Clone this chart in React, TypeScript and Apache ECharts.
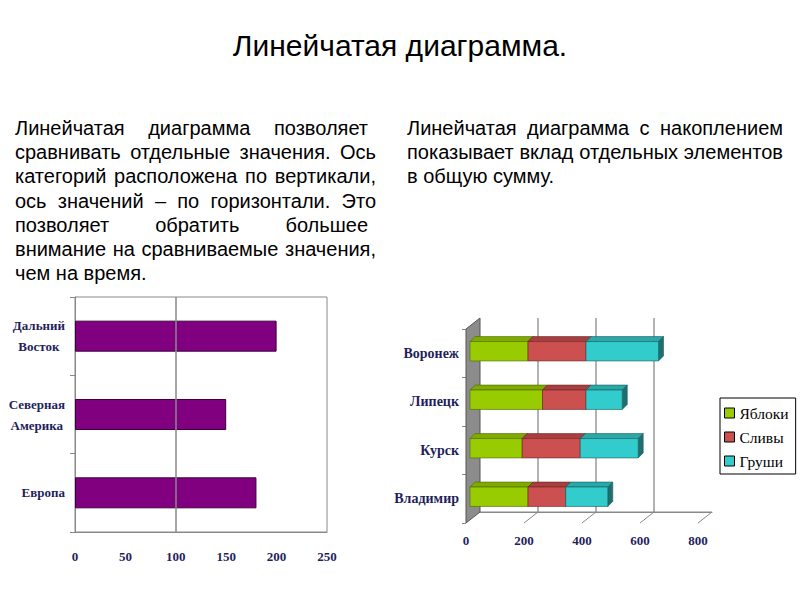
import React, { useEffect, useRef } from "react";
import * as echarts from "echarts";

// ---------- texts ----------
const titleText = "Линейчатая диаграмма.";
const leftParagraph = [
  "Линейчатая диаграмма позволяет",
  "сравнивать отдельные значения. Ось",
  "категорий расположена по вертикали,",
  "ось значений – по горизонтали. Это",
  "позволяет обратить большее",
  "внимание на сравниваемые значения,",
  "чем на время.",
];
const leftJustify = [true, true, true, true, true, true, false];
const leftLineEnds = [368, 376, 376, 376, 368, 376, 376];
const rightParagraph = [
  "Линейчатая диаграмма с накоплением",
  "показывает вклад отдельных элементов",
  "в общую сумму.",
];
const rightJustify = [true, true, false];
const rightLineEnds = [783, 783, 783];

// ---------- left chart data ----------
const leftCategories = ["Европа", "Северная\nАмерика", "Дальний\nВосток"];
const leftValues = [180, 150, 200];
const leftMax = 250;
const leftInterval = 50;
const leftGridValue = 100;

// ---------- right chart data ----------
const rightCategories = ["Владимир", "Курск", "Липецк", "Воронеж"];
const seriesNames = ["Яблоки", "Сливы", "Груши"];
const apples = [200, 180, 250, 200];
const plums = [130, 200, 150, 200];
const pears = [145, 200, 125, 250];
const rightMax = 800;
const rightInterval = 200;
const rightTicks = [0, 200, 400, 600, 800];

const FRONT = ["#99CC00", "#CC5050", "#33CCCC"];
const TOPC = ["#7FAA00", "#A83E3E", "#2AA8A8"];
const SIDE = ["#5E7E00", "#7E2E2E", "#1E7070"];
const EDGE = ["#4d6600", "#6a2626", "#1a5c5c"];

const NAVY = "#1F1F5C";
const SANS = "Liberation Sans";
const SERIF = "Liberation Serif";

function buildTextLines(
  lines: string[],
  justify: boolean[],
  ends: number[],
  x0: number,
  y0: number,
  step: number,
  fontSize: number
) {
  const canvas = document.createElement("canvas");
  const ctx = canvas.getContext("2d")!;
  ctx.font = `${fontSize}px "${SANS}"`;
  const els: any[] = [];
  lines.forEach((line, i) => {
    const y = y0 + i * step;
    const words = line.split(" ");
    if (!justify[i] || words.length < 2) {
      els.push({
        type: "text",
        x: x0,
        y,
        style: { text: line, fontSize, fontFamily: SANS, fill: "#000", align: "left", verticalAlign: "middle" },
      });
      return;
    }
    const widths = words.map((w) => ctx.measureText(w).width);
    const total = widths.reduce((a, b) => a + b, 0);
    const gap = (ends[i] - x0 - total) / (words.length - 1);
    let x = x0;
    words.forEach((w, k) => {
      els.push({
        type: "text",
        x,
        y,
        style: { text: w, fontSize, fontFamily: SANS, fill: "#000", align: "left", verticalAlign: "middle" },
      });
      x += widths[k] + gap;
    });
  });
  return els;
}

export default function App() {
  const ref = useRef<HTMLDivElement>(null);

  useEffect(() => {
    if (!ref.current) return;
    const chart = echarts.init(ref.current, undefined, { renderer: "svg" });

    const stacks = [apples, plums, pears];
    const barSeries = stacks.map((vals, s) => {
      const data = vals.map((v, c) => {
        let start = 0;
        for (let k = 0; k < s; k++) start += stacks[k][c];
        return [start, start + v, c];
      });
      return {
        type: "custom",
        name: seriesNames[s],
        xAxisIndex: 1,
        yAxisIndex: 1,
        z: 5,
        itemStyle: { color: FRONT[s] },
        encode: { x: [0, 1], y: 2 },
        data,
        renderItem: (params: any, api: any) => {
          const cat = api.value(2);
          const a = api.coord([api.value(0), cat]);
          const b = api.coord([api.value(1), cat]);
          const band = api.size([0, 1])[1];
          const h = band * 0.4;
          const d = 5;
          const x = a[0] + 4;
          const y = a[1] - 2 - h / 2;
          const w = b[0] - a[0];
          const st = { stroke: EDGE[s], lineWidth: 0.6 };
          return {
            type: "group",
            children: [
              {
                type: "polygon",
                shape: { points: [[x, y], [x + d, y - d], [x + w + d, y - d], [x + w, y]] },
                style: { fill: TOPC[s], ...st },
              },
              {
                type: "polygon",
                shape: { points: [[x + w, y], [x + w + d, y - d], [x + w + d, y + h - d], [x + w, y + h]] },
                style: { fill: SIDE[s], ...st },
              },
              {
                type: "rect",
                shape: { x, y, width: w, height: h },
                style: { fill: FRONT[s], ...st },
              },
            ],
          };
        },
      };
    });

    const DX = 14;
    const DY = -11;
    const frameSeries = {
      type: "custom",
      name: "frame",
      xAxisIndex: 1,
      yAxisIndex: 1,
      z: 1,
      silent: true,
      encode: { x: 0, y: 1 },
      data: rightTicks.map((t) => [t, 0]),
      renderItem: (params: any, api: any) => {
        const v = api.value(0);
        const p = api.coord([v, 0]);
        const cs = params.coordSys;
        const top = cs.y;
        const bottom = cs.y + cs.height;
        if (v === 0) {
          const pEnd = api.coord([rightMax, 0]);
          return {
            type: "group",
            children: [
              {
                type: "line",
                shape: { x1: p[0] + DX, y1: bottom + DY, x2: pEnd[0] + DX, y2: bottom + DY },
                style: { stroke: "#888", lineWidth: 1 },
              },
              {
                type: "polygon",
                shape: {
                  points: [
                    [p[0], top],
                    [p[0] + DX, top + DY],
                    [p[0] + DX, bottom + DY],
                    [p[0], bottom],
                  ],
                },
                style: { fill: "#8C8C8C", stroke: "#555", lineWidth: 1 },
              },
            ],
          };
        }
        return {
          type: "line",
          shape: { x1: p[0] + DX, y1: bottom + DY, x2: p[0], y2: bottom },
          style: { stroke: "#888", lineWidth: 1 },
        };
      },
    };

    const graphics: any[] = [
      {
        type: "text",
        x: 400,
        y: 45,
        style: { text: titleText, fontSize: 30, fontFamily: SANS, fill: "#000", align: "center", verticalAlign: "middle" },
      },
      ...buildTextLines(leftParagraph, leftJustify, leftLineEnds, 15, 128, 24.2, 20),
      ...buildTextLines(rightParagraph, rightJustify, rightLineEnds, 407, 128, 24.2, 20),
    ];

    chart.setOption({
      animation: false,
      backgroundColor: "#fff",
      graphic: graphics,
      legend: {
        data: seriesNames,
        left: 720,
        top: 398,
        orient: "vertical",
        icon: "rect",
        itemWidth: 10,
        itemHeight: 10,
        itemGap: 8,
        padding: [7, 7, 5, 4],
        borderColor: "#000",
        borderWidth: 1,
        itemStyle: { borderColor: "#000", borderWidth: 1 },
        textStyle: { fontFamily: SERIF, fontSize: 15.5, color: "#000", lineHeight: 14 },
      },
      grid: [
        { left: 75, top: 297, width: 252, height: 235, show: true, borderColor: "#888", borderWidth: 1 },
        { left: 466, top: 329, width: 232, height: 194 },
        { left: 480, top: 318, width: 232, height: 194 },
      ],
      xAxis: [
        {
          type: "value",
          gridIndex: 0,
          min: 0,
          max: leftMax,
          interval: leftInterval,
          axisLine: { show: true, lineStyle: { color: "#888" } },
          axisTick: { show: false },
          splitLine: { show: false },
          axisLabel: { fontFamily: SERIF, fontWeight: "bold", fontSize: 13, color: NAVY, margin: 18 },
        },
        {
          type: "value",
          gridIndex: 1,
          min: 0,
          max: rightMax,
          interval: rightInterval,
          axisLine: { show: false },
          axisTick: { show: false },
          splitLine: { show: false },
          axisLabel: { fontFamily: SERIF, fontWeight: "bold", fontSize: 13, color: NAVY, margin: 11 },
        },
        {
          type: "value",
          gridIndex: 2,
          min: 0,
          max: rightMax,
          interval: rightInterval,
          position: "top",
          axisLine: { show: true, lineStyle: { color: "#888" } },
          axisTick: { show: false },
          axisLabel: { show: false },
          splitLine: { show: true, showMinLine: false, showMaxLine: false, lineStyle: { color: "#999", width: 1.5 } },
        },
      ],
      yAxis: [
        {
          type: "category",
          gridIndex: 0,
          data: leftCategories,
          axisLine: { show: true, lineStyle: { color: "#888" } },
          axisTick: { show: true, length: 5, lineStyle: { color: "#888" } },
          axisLabel: {
            margin: 10,
            align: "right",
            formatter: (v: string) => v.split("\n").map((s) => `{c|${s}}`).join("\n"),
            rich: {
              c: { align: "center", fontFamily: SERIF, fontWeight: "bold", fontSize: 13, color: NAVY, lineHeight: 21 },
            },
          },
        },
        {
          type: "category",
          gridIndex: 1,
          data: rightCategories,
          axisLine: { show: false },
          axisTick: { show: true, length: 4, lineStyle: { color: "#888" } },
          axisLabel: { margin: 7, fontFamily: SERIF, fontWeight: "bold", fontSize: 14, color: NAVY },
        },
        {
          type: "value",
          gridIndex: 2,
          show: false,
          min: 0,
          max: 1,
        },
      ],
      series: [
        {
          type: "bar",
          name: "left",
          xAxisIndex: 0,
          yAxisIndex: 0,
          data: leftValues,
          barWidth: 31,
          itemStyle: { color: "#800080", borderColor: "#3a003a", borderWidth: 1 },
          markLine: {
            silent: true,
            symbol: "none",
            label: { show: false },
            lineStyle: { color: "#888", type: "solid", width: 1.5 },
            data: [{ xAxis: leftGridValue }],
          },
          z: 3,
        },
        frameSeries,
        ...barSeries,
      ],
    });

    return () => chart.dispose();
  }, []);

  return (
    <div
      ref={ref}
      style={{ position: "fixed", left: 0, top: 0, width: 800, height: 600, background: "#fff" }}
    />
  );
}
